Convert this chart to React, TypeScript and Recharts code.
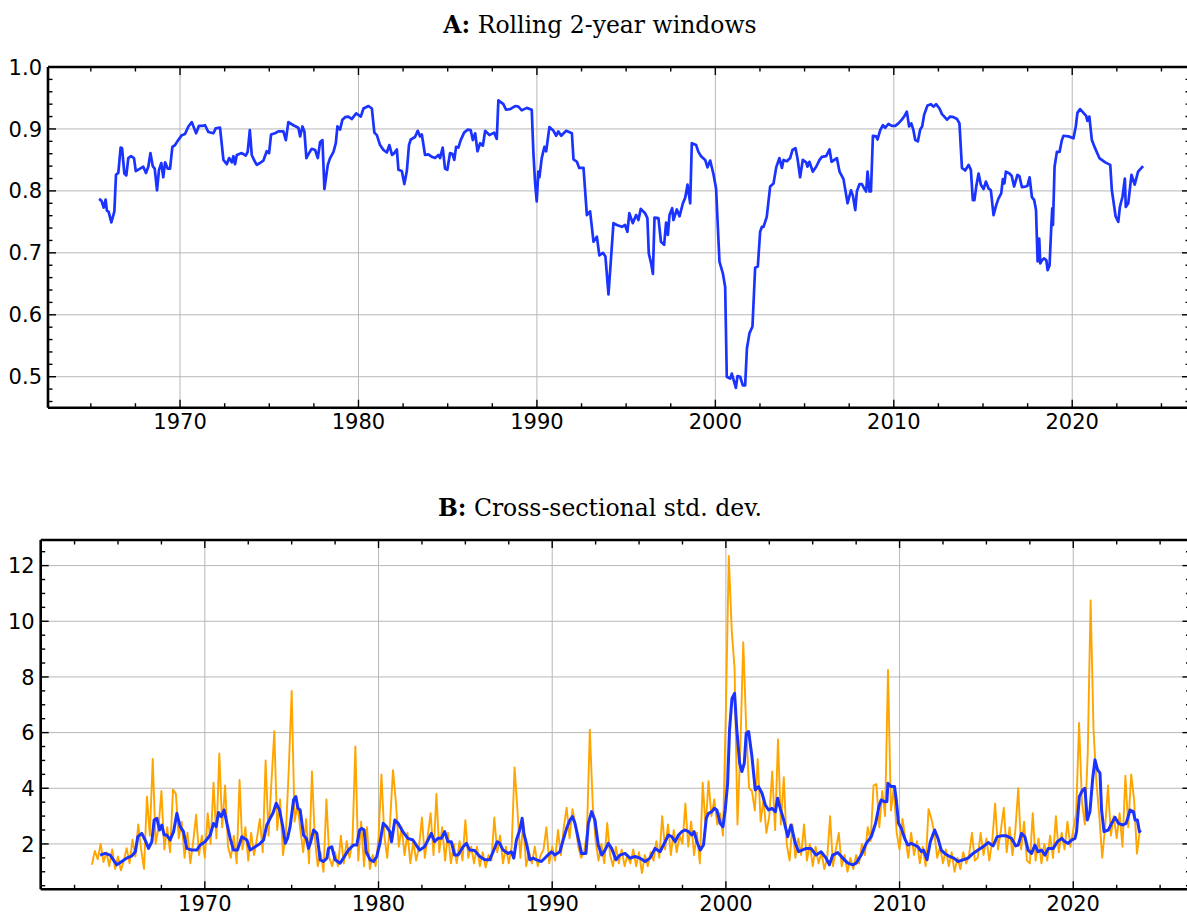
import React from 'react';
import { LineChart, Line, XAxis, YAxis, CartesianGrid } from 'recharts';

// Panel A: rolling 2-year window estimate, [year, value]
const rollingPoints: [number, number][] = [
  [1965.46,0.787],[1965.6,0.784],[1965.72,0.773],[1965.83,0.786],[1965.9,0.768],[1966.0,0.766],[1966.15,0.749],[1966.32,0.767],[1966.41,0.826],[1966.54,0.829],[1966.67,0.870],[1966.75,0.869],[1966.88,0.828],[1966.99,0.825],[1967.1,0.853],[1967.25,0.856],[1967.42,0.853],[1967.52,0.832],[1967.76,0.836],[1967.94,0.839],[1968.09,0.829],[1968.22,0.839],[1968.34,0.861],[1968.47,0.840],[1968.58,0.836],[1968.71,0.801],[1968.82,0.834],[1968.95,0.845],[1969.06,0.822],[1969.16,0.846],[1969.31,0.836],[1969.44,0.836],[1969.57,0.871],[1969.72,0.874],[1969.9,0.882],
  [1970.1,0.890],[1970.28,0.892],[1970.47,0.904],[1970.66,0.911],[1970.9,0.893],[1971.06,0.905],[1971.25,0.905],[1971.4,0.906],[1971.59,0.895],[1971.87,0.893],[1972.0,0.901],[1972.24,0.902],[1972.43,0.850],[1972.62,0.843],[1972.75,0.853],[1972.9,0.846],[1972.99,0.856],[1973.08,0.843],[1973.18,0.858],[1973.46,0.861],[1973.68,0.857],[1973.79,0.863],[1973.91,0.898],[1974.02,0.858],[1974.16,0.849],[1974.3,0.842],[1974.48,0.845],[1974.67,0.849],[1974.86,0.864],[1974.99,0.861],[1975.1,0.891],[1975.32,0.893],[1975.51,0.896],[1975.79,0.896],[1975.93,0.882],[1976.07,0.911],[1976.35,0.906],[1976.63,0.902],[1976.73,0.888],[1976.86,0.904],[1976.97,0.896],[1977.08,0.853],[1977.23,0.861],[1977.38,0.868],[1977.57,0.866],[1977.72,0.853],[1977.85,0.879],[1977.98,0.882],[1978.09,0.803],[1978.28,0.842],[1978.41,0.853],[1978.6,0.863],[1978.73,0.877],[1978.82,0.904],[1978.97,0.899],[1979.1,0.915],[1979.25,0.919],[1979.43,0.920],[1979.62,0.916],[1979.87,0.925],
  [1980.13,0.920],[1980.28,0.933],[1980.56,0.937],[1980.75,0.933],[1980.89,0.894],[1981.03,0.890],[1981.21,0.874],[1981.4,0.866],[1981.59,0.862],[1981.73,0.874],[1981.88,0.858],[1982.01,0.861],[1982.15,0.867],[1982.24,0.834],[1982.43,0.832],[1982.57,0.811],[1982.71,0.832],[1982.83,0.874],[1982.93,0.883],[1983.17,0.887],[1983.32,0.897],[1983.45,0.888],[1983.55,0.891],[1983.73,0.858],[1983.92,0.859],[1984.11,0.855],[1984.29,0.853],[1984.48,0.858],[1984.57,0.853],[1984.72,0.870],[1984.85,0.836],[1984.98,0.834],[1985.13,0.861],[1985.26,0.860],[1985.37,0.850],[1985.47,0.871],[1985.6,0.870],[1985.73,0.882],[1985.92,0.894],[1986.13,0.899],[1986.29,0.898],[1986.41,0.882],[1986.54,0.893],[1986.67,0.864],[1986.82,0.877],[1986.97,0.873],[1987.1,0.897],[1987.34,0.890],[1987.6,0.894],[1987.75,0.884],[1987.84,0.946],[1988.12,0.940],[1988.27,0.931],[1988.5,0.932],[1988.78,0.937],[1988.96,0.936],[1989.15,0.930],[1989.43,0.934],[1989.71,0.931],[1989.8,0.863],[1989.9,0.812],[1989.99,0.783],
  [1990.08,0.831],[1990.14,0.822],[1990.27,0.853],[1990.42,0.871],[1990.52,0.864],[1990.7,0.903],[1990.93,0.897],[1991.08,0.889],[1991.2,0.896],[1991.36,0.889],[1991.64,0.897],[1991.96,0.893],[1992.05,0.851],[1992.24,0.847],[1992.37,0.837],[1992.61,0.837],[1992.8,0.761],[1992.98,0.767],[1993.17,0.718],[1993.36,0.726],[1993.5,0.696],[1993.7,0.700],[1993.84,0.694],[1994.01,0.633],[1994.14,0.686],[1994.29,0.748],[1994.48,0.745],[1994.76,0.742],[1994.94,0.745],[1995.07,0.734],[1995.18,0.764],[1995.37,0.748],[1995.56,0.761],[1995.69,0.753],[1995.82,0.771],[1996.06,0.764],[1996.19,0.756],[1996.27,0.699],[1996.4,0.683],[1996.5,0.666],[1996.59,0.757],[1996.81,0.756],[1996.95,0.718],[1997.13,0.713],[1997.24,0.749],[1997.34,0.729],[1997.43,0.761],[1997.58,0.772],[1997.65,0.753],[1997.84,0.770],[1997.99,0.759],[1998.18,0.780],[1998.31,0.789],[1998.44,0.810],[1998.59,0.780],[1998.68,0.877],[1998.92,0.874],[1999.05,0.863],[1999.2,0.856],[1999.43,0.850],[1999.56,0.838],[1999.71,0.849],[1999.9,0.826],
  [2000.04,0.804],[2000.23,0.686],[2000.42,0.667],[2000.55,0.645],[2000.64,0.500],[2000.83,0.497],[2000.92,0.505],[2001.01,0.496],[2001.15,0.482],[2001.24,0.501],[2001.39,0.500],[2001.54,0.486],[2001.67,0.486],[2001.77,0.546],[2001.91,0.570],[2002.08,0.581],[2002.23,0.676],[2002.38,0.678],[2002.51,0.734],[2002.61,0.742],[2002.7,0.742],[2002.88,0.758],[2003.07,0.807],[2003.26,0.812],[2003.41,0.838],[2003.59,0.853],[2003.73,0.837],[2003.82,0.850],[2004.01,0.848],[2004.19,0.853],[2004.32,0.866],[2004.49,0.869],[2004.6,0.853],[2004.75,0.822],[2004.9,0.850],[2005.09,0.846],[2005.16,0.839],[2005.27,0.847],[2005.46,0.831],[2005.65,0.839],[2005.84,0.850],[2005.97,0.855],[2006.21,0.856],[2006.4,0.867],[2006.51,0.847],[2006.81,0.853],[2006.96,0.831],[2007.18,0.819],[2007.41,0.780],[2007.6,0.801],[2007.71,0.792],[2007.84,0.769],[2007.93,0.799],[2008.08,0.811],[2008.21,0.811],[2008.34,0.804],[2008.45,0.799],[2008.53,0.831],[2008.64,0.799],[2008.72,0.799],[2008.83,0.889],[2009.01,0.888],[2009.09,0.883],[2009.24,0.898],[2009.39,0.906],[2009.52,0.902],[2009.7,0.908],[2009.89,0.905],
  [2010.08,0.905],[2010.26,0.909],[2010.45,0.915],[2010.58,0.920],[2010.73,0.928],[2010.86,0.904],[2010.98,0.909],[2011.1,0.898],[2011.2,0.882],[2011.35,0.880],[2011.48,0.899],[2011.59,0.904],[2011.7,0.923],[2011.89,0.938],[2012.08,0.940],[2012.22,0.936],[2012.37,0.940],[2012.56,0.933],[2012.7,0.924],[2012.83,0.920],[2012.98,0.915],[2013.16,0.920],[2013.35,0.919],[2013.54,0.916],[2013.68,0.909],[2013.82,0.837],[2014.0,0.833],[2014.19,0.842],[2014.32,0.834],[2014.43,0.785],[2014.52,0.785],[2014.62,0.807],[2014.75,0.828],[2014.88,0.810],[2015.03,0.803],[2015.16,0.815],[2015.31,0.804],[2015.44,0.801],[2015.59,0.761],[2015.74,0.777],[2015.87,0.788],[2016.02,0.796],[2016.11,0.819],[2016.2,0.812],[2016.28,0.831],[2016.48,0.828],[2016.61,0.824],[2016.74,0.807],[2016.93,0.826],[2017.04,0.824],[2017.18,0.806],[2017.37,0.807],[2017.49,0.808],[2017.61,0.822],[2017.74,0.790],[2017.87,0.785],[2017.97,0.769],[2018.06,0.686],[2018.15,0.723],[2018.21,0.683],[2018.3,0.688],[2018.43,0.691],[2018.55,0.688],[2018.62,0.672],[2018.73,0.680],[2018.83,0.745],[2018.88,0.772],[2018.92,0.745],[2019.01,0.839],[2019.14,0.863],[2019.29,0.863],[2019.42,0.882],[2019.51,0.889],[2019.79,0.888],
  [2020.07,0.885],[2020.2,0.904],[2020.29,0.926],[2020.44,0.932],[2020.63,0.926],[2020.78,0.921],[2020.85,0.913],[2020.96,0.920],[2021.1,0.882],[2021.28,0.869],[2021.52,0.853],[2021.85,0.846],[2022.13,0.842],[2022.22,0.801],[2022.43,0.759],[2022.58,0.750],[2022.67,0.774],[2022.82,0.791],[2022.95,0.820],[2023.0,0.774],[2023.14,0.780],[2023.32,0.826],[2023.5,0.810],[2023.69,0.831],[2023.97,0.840],
];

// Panel B: monthly cross-sectional dispersion, sampled every two months from mid-1963
const dispersionStart = 1963.5;
const dispersionStep = 1 / 6;
const dispersionRaw: number[] = [
  1.25, 1.75, 1.45, 2.0, 1.35, 1.7,
  1.2, 1.8, 1.1, 1.55, 1.05, 1.4,
  1.85, 1.3, 2.15, 1.55, 2.7, 1.8,
  1.1, 3.7, 2.3, 5.05, 2.0, 2.6,
  3.9, 1.8, 2.6, 1.7, 3.95, 3.8,
  2.2, 2.8, 1.5, 2.4, 1.3, 2.1,
  3.05, 1.6, 2.3, 1.5, 3.1, 2.0,
  4.2, 2.2, 5.25, 2.6, 4.1, 1.9,
  1.5, 2.3, 1.3, 4.3, 1.8, 2.6,
  1.4, 2.4, 1.6, 2.2, 2.9, 1.7,
  5.0, 2.3, 4.2, 6.05, 2.5, 3.6,
  1.6, 2.4, 4.7, 7.5, 2.8, 3.4,
  2.5, 1.7, 2.9, 1.3, 4.6, 2.2,
  1.2, 1.7, 1.0, 3.6, 1.5, 1.2,
  1.7, 1.2, 2.3, 1.3, 2.1, 1.5,
  2.1, 5.5, 1.4, 2.8, 1.2, 2.6,
  1.1, 1.6, 1.2, 2.2, 4.5, 2.3,
  1.5, 2.8, 4.65, 3.5, 1.9, 2.6,
  1.6, 2.4, 1.3, 2.1, 1.4, 1.9,
  2.95, 1.5, 2.3, 3.1, 1.6, 3.8,
  1.7, 2.6, 1.4, 2.4, 1.3, 2.0,
  1.3, 2.1, 1.4, 2.85, 1.5, 1.9,
  1.3, 1.9, 1.2, 1.7, 1.15, 1.6,
  1.4, 2.95, 1.7, 2.3, 1.3, 1.9,
  1.3, 1.9, 4.75, 3.2, 1.5, 2.8,
  1.2, 1.7, 1.3, 1.9, 1.2, 1.6,
  1.8, 2.6, 1.3, 1.9, 1.4, 2.5,
  1.6, 2.6, 3.3, 2.2, 3.25, 2.7,
  1.9, 1.5, 1.7, 2.4, 6.1, 3.4,
  2.1, 1.4, 2.0, 1.3, 2.75, 1.6,
  1.2, 1.9, 1.3, 1.8, 1.2, 1.6,
  1.3, 1.8, 1.2, 1.7, 0.95, 1.6,
  1.2, 1.7, 1.4, 2.1, 1.5, 3.0,
  1.8, 2.7, 1.6, 2.5, 1.7, 2.3,
  2.0, 3.45, 1.9, 2.8, 1.6, 2.4,
  1.3, 4.2, 2.6, 4.25, 3.0, 3.6,
  2.7, 3.1, 2.3, 6.8, 12.35, 9.7,
  8.3, 2.7, 5.5, 9.25, 6.2, 4.0,
  3.9, 3.2, 5.05, 2.8, 3.6, 2.4,
  3.0, 4.6, 2.5, 5.75, 2.7, 4.4,
  2.0, 1.4, 2.7, 1.5, 2.2, 1.6,
  2.7, 1.4, 2.0, 1.2, 1.9, 1.3,
  1.7, 1.1, 1.5, 3.0, 1.2, 1.8,
  2.4, 1.2, 1.6, 1.0, 1.5, 1.1,
  1.6, 1.3, 2.0, 1.6, 2.6, 2.1,
  4.1, 4.15, 2.6, 3.9, 3.0, 8.25,
  3.2, 4.0, 2.4, 1.8, 2.9, 2.2,
  1.5, 2.4, 1.6, 2.1, 1.3, 1.9,
  1.2, 3.25, 2.9, 2.4, 1.5, 1.9,
  1.3, 1.8, 1.2, 1.7, 1.0, 1.5,
  1.1, 1.7, 1.3, 1.6, 2.4, 1.4,
  1.5, 2.4, 1.6, 2.2, 1.4, 2.1,
  3.45, 1.8, 2.5, 3.3, 1.7, 2.6,
  1.6, 2.5, 4.0, 1.8, 2.8, 1.4,
  1.3, 3.1, 1.4, 2.2, 1.3, 2.0,
  1.4, 2.3, 1.5, 3.0, 1.7, 2.4,
  1.8, 2.8, 1.9, 2.5, 3.1, 6.35,
  3.5, 2.7, 5.25, 10.75, 6.1, 4.2,
  3.0, 1.5, 2.6, 4.1, 2.3, 3.0,
  2.2, 3.1, 1.9, 4.45, 2.6, 4.5,
  3.6, 1.65, 2.5,
];

// Panel B: smoothed dispersion, [year, value]
const dispersionSmooth: [number, number][] = [
  [1963.97,1.60],[1964.26,1.66],[1964.55,1.60],[1964.93,1.25],[1965.22,1.37],[1965.5,1.49],[1965.8,1.57],[1966.0,1.72],[1966.14,2.26],[1966.37,2.38],[1966.56,2.14],[1966.76,1.84],[1966.95,2.08],[1967.08,2.86],[1967.24,2.92],[1967.39,2.50],[1967.52,2.68],[1967.66,2.32],[1967.81,2.32],[1968.0,2.14],[1968.2,2.44],[1968.39,3.10],[1968.58,2.62],[1968.77,2.44],[1968.96,1.84],[1969.25,1.78],[1969.54,1.78],[1969.73,1.96],
  [1970.02,2.08],[1970.31,2.32],[1970.5,2.74],[1970.65,2.62],[1970.79,3.13],[1970.94,2.98],[1971.11,3.22],[1971.27,2.74],[1971.46,2.20],[1971.65,1.78],[1971.88,1.78],[1972.13,2.26],[1972.42,2.14],[1972.61,1.78],[1972.9,1.90],[1973.19,2.02],[1973.38,2.14],[1973.57,2.68],[1973.76,2.92],[1973.92,3.10],[1974.11,3.46],[1974.3,3.22],[1974.49,2.62],[1974.63,2.02],[1974.76,2.20],[1974.91,2.62],[1975.11,3.58],[1975.24,3.70],[1975.36,3.28],[1975.49,3.22],[1975.68,2.32],[1975.84,2.20],[1975.97,1.84],[1976.1,2.08],[1976.26,2.50],[1976.45,2.38],[1976.64,1.43],[1976.83,1.37],[1977.03,1.49],[1977.12,1.84],[1977.31,1.90],[1977.5,1.43],[1977.79,1.31],[1977.98,1.49],[1978.27,1.78],[1978.56,1.96],[1978.75,1.96],[1978.91,2.50],[1979.04,2.56],[1979.17,2.50],[1979.29,1.72],[1979.52,1.43],[1979.71,1.37],[1979.9,1.55],
  [1980.08,2.02],[1980.27,2.74],[1980.46,2.62],[1980.65,2.44],[1980.75,2.08],[1980.94,2.86],[1981.13,2.74],[1981.4,2.44],[1981.69,2.20],[1981.98,2.14],[1982.17,1.96],[1982.37,1.78],[1982.65,1.90],[1982.85,2.14],[1983.04,2.38],[1983.23,2.08],[1983.42,2.20],[1983.62,2.20],[1983.81,2.44],[1984.0,2.08],[1984.19,2.08],[1984.38,1.60],[1984.58,1.60],[1984.87,1.90],[1985.06,2.02],[1985.25,1.78],[1985.54,1.76],[1985.83,1.55],[1986.12,1.43],[1986.4,1.43],[1986.6,1.72],[1986.83,2.08],[1986.98,2.02],[1987.17,1.78],[1987.46,1.66],[1987.65,1.72],[1987.79,1.49],[1987.94,2.14],[1988.13,2.50],[1988.27,2.92],[1988.37,2.38],[1988.56,1.90],[1988.71,1.43],[1988.9,1.49],[1989.1,1.43],[1989.38,1.37],[1989.67,1.55],[1989.96,1.72],
  [1990.15,1.60],[1990.44,1.72],[1990.63,2.14],[1990.83,2.56],[1991.02,2.86],[1991.17,2.98],[1991.31,2.74],[1991.5,2.20],[1991.69,1.66],[1991.94,1.66],[1992.08,2.74],[1992.27,3.16],[1992.46,2.86],[1992.65,1.96],[1992.85,1.60],[1993.04,1.78],[1993.23,2.02],[1993.42,1.84],[1993.67,1.43],[1993.9,1.60],[1994.19,1.66],[1994.48,1.49],[1994.77,1.55],[1995.06,1.49],[1995.35,1.37],[1995.63,1.49],[1995.92,1.84],[1996.21,1.72],[1996.5,2.08],[1996.69,2.32],[1996.88,2.26],[1997.08,2.08],[1997.27,2.32],[1997.46,2.44],[1997.65,2.50],[1997.85,2.44],[1998.04,2.32],[1998.17,2.44],[1998.33,2.08],[1998.52,1.78],[1998.71,1.96],[1998.87,2.92],[1999.0,3.10],[1999.19,3.16],[1999.33,3.28],[1999.48,3.22],[1999.67,2.74],[1999.83,2.62],[1999.96,3.22],
  [2000.1,4.18],[2000.21,6.10],[2000.35,7.23],[2000.5,7.41],[2000.63,6.10],[2000.79,4.90],[2000.92,4.60],[2001.06,4.90],[2001.17,5.98],[2001.31,6.04],[2001.5,5.14],[2001.69,3.94],[2001.88,4.06],[2002.08,3.82],[2002.27,3.40],[2002.46,3.22],[2002.65,3.28],[2002.85,3.16],[2002.98,3.64],[2003.13,3.28],[2003.33,2.86],[2003.56,2.26],[2003.75,2.68],[2004.0,2.02],[2004.19,1.72],[2004.62,1.84],[2004.9,1.84],[2005.19,1.60],[2005.48,1.72],[2005.77,1.49],[2005.96,1.25],[2006.15,1.60],[2006.44,1.69],[2006.73,1.49],[2007.02,1.31],[2007.31,1.25],[2007.5,1.31],[2007.79,1.60],[2008.08,2.02],[2008.37,2.26],[2008.62,2.74],[2008.81,3.34],[2008.94,3.58],[2009.13,3.52],[2009.27,3.52],[2009.33,4.18],[2009.52,4.06],[2009.71,4.06],[2009.81,3.58],[2009.94,2.74],
  [2010.1,2.56],[2010.29,2.20],[2010.48,1.96],[2010.67,2.02],[2010.87,1.96],[2011.06,1.90],[2011.25,1.72],[2011.38,1.78],[2011.58,1.43],[2011.77,2.08],[2012.02,2.50],[2012.21,2.20],[2012.4,1.78],[2012.6,1.66],[2012.88,1.55],[2013.12,1.49],[2013.37,1.37],[2013.65,1.43],[2013.94,1.49],[2014.23,1.66],[2014.52,1.78],[2014.81,1.90],[2015.1,2.05],[2015.38,1.93],[2015.62,2.26],[2015.87,2.29],[2016.15,2.29],[2016.44,2.20],[2016.69,1.93],[2016.83,1.96],[2017.02,2.38],[2017.21,2.26],[2017.4,1.78],[2017.6,1.66],[2017.79,1.96],[2017.98,1.72],[2018.17,1.78],[2018.37,1.60],[2018.56,1.84],[2018.85,1.84],[2019.08,2.08],[2019.33,2.20],[2019.52,2.08],[2019.71,2.02],[2019.9,2.14],
  [2020.1,2.20],[2020.19,2.44],[2020.35,3.70],[2020.54,3.94],[2020.67,4.00],[2020.81,2.86],[2020.96,3.16],[2021.12,4.36],[2021.25,5.02],[2021.4,4.66],[2021.54,4.54],[2021.63,3.22],[2021.77,2.44],[2022.02,2.50],[2022.21,2.74],[2022.4,2.96],[2022.6,2.74],[2022.85,2.68],[2023.04,2.74],[2023.13,2.92],[2023.27,3.22],[2023.46,3.16],[2023.56,2.86],[2023.69,2.86],[2023.81,2.44],[2023.88,2.50],
];

// Axis ticks
const xMajorYears = [1970, 1980, 1990, 2000, 2010, 2020];
const xTicksA = [1965, 1967.5, 1970, 1972.5, 1975, 1977.5, 1980, 1982.5, 1985, 1987.5, 1990, 1992.5, 1995, 1997.5, 2000, 2002.5, 2005, 2007.5, 2010, 2012.5, 2015, 2017.5, 2020, 2022.5, 2025];
const xTicksB = [1962.5, ...xTicksA];
const yMajorA = [0.5, 0.6, 0.7, 0.8, 0.9, 1.0];
const yTicksA = [0.46, 0.48, 0.5, 0.52, 0.54, 0.56, 0.58, 0.6, 0.62, 0.64, 0.66, 0.68, 0.7, 0.72, 0.74, 0.76, 0.78, 0.8, 0.82, 0.84, 0.86, 0.88, 0.9, 0.92, 0.94, 0.96, 0.98, 1.0];
const yMajorB = [2, 4, 6, 8, 10, 12];
const yTicksB = [0.5, 1, 1.5, 2, 2.5, 3, 3.5, 4, 4.5, 5, 5.5, 6, 6.5, 7, 7.5, 8, 8.5, 9, 9.5, 10, 10.5, 11, 11.5, 12, 12.5];

const domainXA: [number, number] = [1962.6, 2026.6];
const domainYA: [number, number] = [0.45, 1.0];
const domainXB: [number, number] = [1960.55, 2026.75];
const domainYB: [number, number] = [0.37, 12.92];

const BLUE = '#1a33ff';
const ORANGE = '#ffa500';
const GRID = '#b8b8b8';
const AXIS_FONT = 'DejaVu Sans, sans-serif';
const TITLE_FONT = 'DejaVu Serif, serif';
const MAJOR_LEN = 8;
const MINOR_LEN = 4.5;
const TICK_W = 1.4;
const SPINE = { stroke: '#000', strokeWidth: 2.6 };

const isMajor = (v: number, majors: number[]) => majors.some((m) => Math.abs(m - v) < 1e-6);

const bottomTick = (majors: number[]) => (props: any) => {
  const { x, y, payload } = props;
  const major = isMajor(payload.value, majors);
  return (
    <g>
      <line x1={x} x2={x} y1={y} y2={y - (major ? MAJOR_LEN : MINOR_LEN)} stroke="#000" strokeWidth={TICK_W} />
      {major && (
        <text x={x} y={y + 21.5} textAnchor="middle" fontFamily={AXIS_FONT} fontSize={21} fill="#000">
          {String(payload.value)}
        </text>
      )}
    </g>
  );
};

const topTick = (majors: number[]) => (props: any) => {
  const { x, y, payload } = props;
  const major = isMajor(payload.value, majors);
  return <line x1={x} x2={x} y1={y} y2={y + (major ? MAJOR_LEN : MINOR_LEN)} stroke="#000" strokeWidth={TICK_W} />;
};

const leftTick = (majors: number[], fmt: (v: number) => string) => (props: any) => {
  const { x, y, payload } = props;
  const major = isMajor(payload.value, majors);
  return (
    <g>
      <line x1={x} x2={x + (major ? MAJOR_LEN : MINOR_LEN)} y1={y} y2={y} stroke="#000" strokeWidth={TICK_W} />
      {major && (
        <text x={x - 6} y={y + 7.6} textAnchor="end" fontFamily={AXIS_FONT} fontSize={21} fill="#000">
          {fmt(payload.value)}
        </text>
      )}
    </g>
  );
};

const rightTick = (majors: number[]) => (props: any) => {
  const { x, y, payload } = props;
  const major = isMajor(payload.value, majors);
  return <line x1={x} x2={x - (major ? MAJOR_LEN : MINOR_LEN)} y1={y} y2={y} stroke="#000" strokeWidth={TICK_W} />;
};

const toRows = (pts: [number, number][]) => pts.map(([year, value]) => ({ year, value }));

const rollingData = toRows(rollingPoints);
const rawData = dispersionRaw.map((value, i) => ({ year: dispersionStart + i * dispersionStep, value }));
const smoothData = toRows(dispersionSmooth);

type FrameProps = {
  xDomain: [number, number];
  yDomain: [number, number];
  xTicks: number[];
  yTicks: number[];
  yMajors: number[];
  yFmt: (v: number) => string;
  bottomH: number;
  leftW: number;
};

// Four framed axes with inward ticks plus hidden axes that carry the major grid
function frameAxes(p: FrameProps) {
  return [
    <XAxis key="gx" xAxisId="gx" type="number" dataKey="year" domain={p.xDomain} ticks={xMajorYears} allowDataOverflow hide height={0} />,
    <YAxis key="gy" yAxisId="gy" type="number" domain={p.yDomain} ticks={p.yMajors} allowDataOverflow hide width={0} />,
    <CartesianGrid key="grid" xAxisId="gx" yAxisId="gy" stroke={GRID} strokeWidth={1} />,
    <XAxis key="xb" type="number" dataKey="year" domain={p.xDomain} ticks={p.xTicks} interval={0} allowDataOverflow
      tickSize={0} tickMargin={0} tickLine={false} axisLine={SPINE} tick={bottomTick(xMajorYears)} height={p.bottomH} />,
    <XAxis key="xt" xAxisId="top" orientation="top" type="number" dataKey="year" domain={p.xDomain} ticks={p.xTicks} interval={0} allowDataOverflow
      tickSize={0} tickMargin={0} tickLine={false} axisLine={SPINE} tick={topTick(xMajorYears)} height={10} />,
    <YAxis key="yl" type="number" domain={p.yDomain} ticks={p.yTicks} interval={0} allowDataOverflow
      tickSize={0} tickMargin={0} tickLine={false} axisLine={SPINE} tick={leftTick(p.yMajors, p.yFmt)} width={p.leftW} />,
    <YAxis key="yr" yAxisId="right" orientation="right" type="number" domain={p.yDomain} ticks={p.yTicks} interval={0} allowDataOverflow
      tickSize={0} tickMargin={0} tickLine={false} axisLine={SPINE} tick={rightTick(p.yMajors)} width={1} />,
  ];
}

export default function App() {
  return (
    <div style={{ position: 'absolute', left: 0, top: 0, width: 1187, height: 915, overflow: 'hidden', background: '#fff' }}>
      <svg width={1187} height={915} style={{ position: 'absolute', left: 0, top: 0 }}>
        <text x={600} y={32.5} textAnchor="middle" fontFamily={TITLE_FONT} fontSize={23.5} fill="#000">
          <tspan fontWeight="bold">A:</tspan>
          <tspan> Rolling 2-year windows</tspan>
        </text>
        <text x={600} y={515.5} textAnchor="middle" fontFamily={TITLE_FONT} fontSize={23.5} fill="#000">
          <tspan fontWeight="bold">B:</tspan>
          <tspan> Cross-sectional std. dev.</tspan>
        </text>
      </svg>

      <div style={{ position: 'absolute', left: 0, top: 0 }}>
        <LineChart width={1192} height={450} data={rollingData} margin={{ top: 57, right: 1, bottom: 12.3, left: 8 }}>
          {frameAxes({ xDomain: domainXA, yDomain: domainYA, xTicks: xTicksA, yTicks: yTicksA, yMajors: yMajorA, yFmt: (v) => v.toFixed(1), bottomH: 30, leftW: 40 })}
          <Line type="linear" dataKey="value" stroke={BLUE} strokeWidth={2.7} dot={false} isAnimationActive={false} strokeLinejoin="round" />
        </LineChart>
      </div>

      <div style={{ position: 'absolute', left: 0, top: 450 }}>
        <LineChart width={1192} height={465} margin={{ top: 80, right: 0.5, bottom: 5.7, left: 5.7 }}>
          {frameAxes({ xDomain: domainXB, yDomain: domainYB, xTicks: xTicksB, yTicks: yTicksB, yMajors: yMajorB, yFmt: (v) => String(v), bottomH: 20, leftW: 35 })}
          <Line data={rawData} type="linear" dataKey="value" stroke={ORANGE} strokeWidth={1.9} dot={false} isAnimationActive={false} strokeLinejoin="round" />
          <Line data={smoothData} type="linear" dataKey="value" stroke={BLUE} strokeWidth={3} dot={false} isAnimationActive={false} strokeLinejoin="round" />
        </LineChart>
      </div>
    </div>
  );
}
